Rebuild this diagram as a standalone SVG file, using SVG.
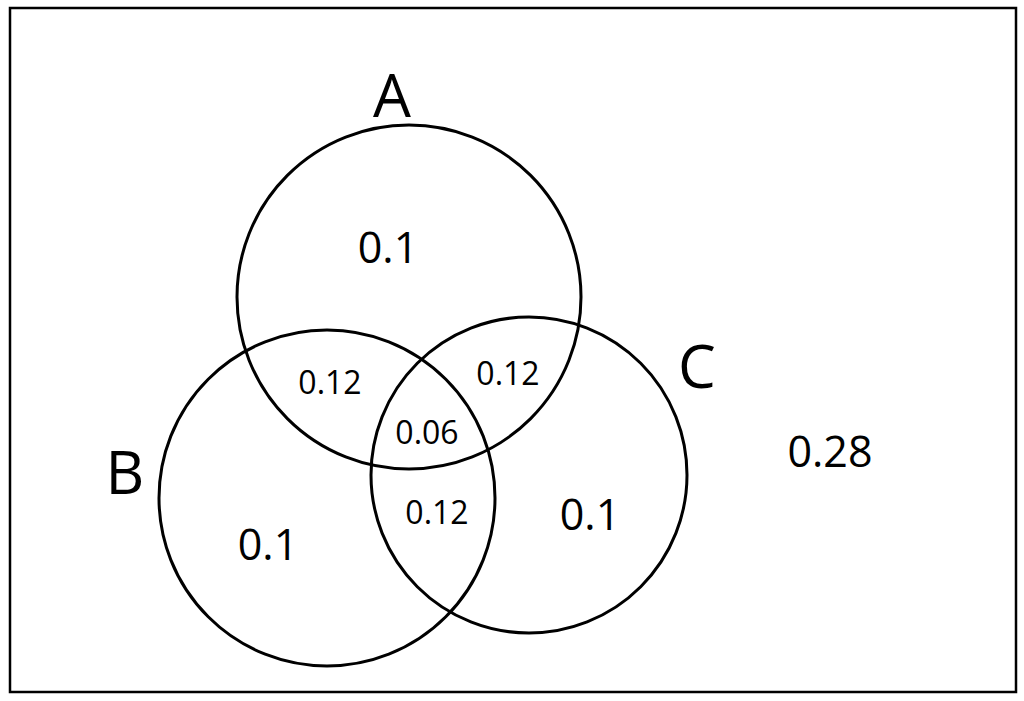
<svg xmlns="http://www.w3.org/2000/svg" width="1024" height="701" viewBox="0 0 1024 701">
<style>
.c{fill:none;stroke:#000;stroke-width:3}
.t{font-family:"Open Sans","Liberation Sans",sans-serif;fill:#000;text-anchor:middle}
.big{font-size:60px}
.mid{font-size:43px}
.sm{font-size:32px}
</style>
<rect x="0" y="0" width="1024" height="701" fill="#fff"/>
<rect x="10" y="8" width="1006" height="684" fill="none" stroke="#000" stroke-width="2.5"/>
<g id="A"><circle class="c" cx="409" cy="297" r="172"/><text class="t big" x="392" y="117">A</text><text class="t mid" x="388" y="263">0.1</text></g>
<g id="B"><circle class="c" cx="327" cy="498" r="168"/><text class="t big" x="125" y="494">B</text><text class="t mid" x="268" y="560">0.1</text></g>
<g id="C"><circle class="c" cx="529" cy="475" r="158"/><text class="t big" x="697" y="388">C</text><text class="t mid" x="590" y="530">0.1</text></g>
<g id="labels">
<text class="t sm" x="330" y="394">0.12</text>
<text class="t sm" x="508" y="385">0.12</text>
<text class="t sm" x="427" y="444">0.06</text>
<text class="t sm" x="437" y="524">0.12</text>
<text class="t mid" x="830" y="467">0.28</text>
</g>
<g id="connectors"/>
</svg>
